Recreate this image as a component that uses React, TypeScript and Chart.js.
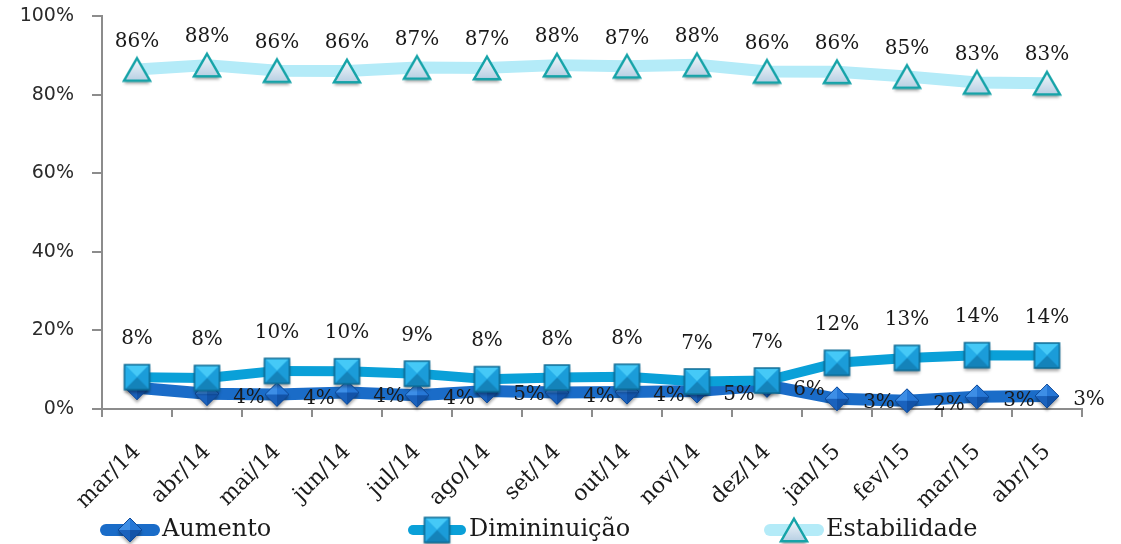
import React, { useEffect, useRef } from 'react';
import { Chart, registerables } from 'chart.js';

Chart.register(...registerables);

// ---------- data ----------
const categories = ['mar/14', 'abr/14', 'mai/14', 'jun/14', 'jul/14', 'ago/14', 'set/14', 'out/14', 'nov/14', 'dez/14', 'jan/15', 'fev/15', 'mar/15', 'abr/15'];
const aumento = [5.4, 3.9, 3.7, 4.2, 3.5, 4.6, 4.2, 4.3, 4.6, 6.0, 2.6, 2.1, 3.1, 3.3];
const diminuicao = [8.1, 7.9, 9.7, 9.6, 9.0, 7.6, 8.0, 8.2, 7.0, 7.25, 11.75, 13.0, 13.7, 13.6];
const estabilidade = [86.4, 87.5, 86.1, 86.0, 86.9, 86.8, 87.5, 87.2, 87.6, 85.9, 85.8, 84.6, 83.1, 82.9];
const aumentoLabelShown = [false, true, true, true, true, true, true, true, true, true, true, true, true, true];
const seriesNames = ['Aumento', 'Dimininuição', 'Estabilidade'];
const yTickStep = 20;
const yMax = 100;

// ---------- styles ----------
const SERIF = '"DejaVu Serif", serif';
const SANS = '"DejaVu Sans", sans-serif';
const AXIS = '#8c8c8c';
const colAum = '#1a6cc8';
const colDim = '#0aa0d8';
const colEst = '#b4ebf8';

function makeCanvas(size: number) {
  const c = document.createElement('canvas');
  c.width = size;
  c.height = size;
  return c;
}

function diamondImg(r: number) {
  const size = Math.ceil(2 * r + 12);
  const c = makeCanvas(size);
  const ctx = c.getContext('2d')!;
  const cx = size / 2, cy = size / 2;
  const T = [cx, cy - r], R = [cx + r, cy], B = [cx, cy + r], L = [cx - r, cy];
  ctx.save();
  ctx.shadowColor = 'rgba(0,0,0,0.35)';
  ctx.shadowOffsetY = 3;
  ctx.shadowBlur = 3;
  ctx.beginPath();
  ctx.moveTo(T[0], T[1]); ctx.lineTo(R[0], R[1]); ctx.lineTo(B[0], B[1]); ctx.lineTo(L[0], L[1]); ctx.closePath();
  ctx.fillStyle = '#1a62bd';
  ctx.fill();
  ctx.restore();
  const facets: [number[], number[], string][] = [
    [T, L, '#3d8ee6'], [T, R, '#2677d6'], [R, B, '#1253a8'], [B, L, '#1a62bd'],
  ];
  facets.forEach(([a, b, col]) => {
    ctx.beginPath();
    ctx.moveTo(a[0], a[1]); ctx.lineTo(b[0], b[1]); ctx.lineTo(cx, cy); ctx.closePath();
    ctx.fillStyle = col;
    ctx.fill();
  });
  ctx.beginPath();
  ctx.moveTo(T[0], T[1]); ctx.lineTo(R[0], R[1]); ctx.lineTo(B[0], B[1]); ctx.lineTo(L[0], L[1]); ctx.closePath();
  ctx.strokeStyle = '#0f4a99';
  ctx.lineWidth = 1;
  ctx.stroke();
  return c;
}

function squareImg(h: number) {
  const size = Math.ceil(2 * h + 12);
  const c = makeCanvas(size);
  const ctx = c.getContext('2d')!;
  const cx = size / 2, cy = size / 2;
  const TL = [cx - h, cy - h], TR = [cx + h, cy - h], BR = [cx + h, cy + h], BL = [cx - h, cy + h];
  ctx.save();
  ctx.shadowColor = 'rgba(0,0,0,0.35)';
  ctx.shadowOffsetY = 3;
  ctx.shadowBlur = 3;
  ctx.fillStyle = '#1a9ad8';
  ctx.fillRect(cx - h, cy - h, 2 * h, 2 * h);
  ctx.restore();
  const facets: [number[], number[], string][] = [
    [TL, TR, '#45c9f7'], [TR, BR, '#1b9cd9'], [BR, BL, '#1483ba'], [BL, TL, '#25aee9'],
  ];
  facets.forEach(([a, b, col]) => {
    ctx.beginPath();
    ctx.moveTo(a[0], a[1]); ctx.lineTo(b[0], b[1]); ctx.lineTo(cx, cy); ctx.closePath();
    ctx.fillStyle = col;
    ctx.fill();
  });
  ctx.strokeStyle = '#0b6a94';
  ctx.lineWidth = 1.5;
  ctx.strokeRect(cx - h, cy - h, 2 * h, 2 * h);
  return c;
}

function triangleImg(r: number) {
  const size = Math.ceil(2 * r + 12);
  const c = makeCanvas(size);
  const ctx = c.getContext('2d')!;
  const cx = size / 2, cy = size / 2 + r * 0.25;
  const hw = r * 0.866;
  const path = () => {
    ctx.beginPath();
    ctx.moveTo(cx, cy - r);
    ctx.lineTo(cx + hw, cy + r * 0.5);
    ctx.lineTo(cx - hw, cy + r * 0.5);
    ctx.closePath();
  };
  ctx.save();
  ctx.shadowColor = 'rgba(0,0,0,0.35)';
  ctx.shadowOffsetY = 3;
  ctx.shadowBlur = 3;
  path();
  const g = ctx.createLinearGradient(0, cy - r, 0, cy + r * 0.5);
  g.addColorStop(0, '#f4f9fc');
  g.addColorStop(1, '#b7cfe3');
  ctx.fillStyle = g;
  ctx.fill();
  ctx.restore();
  path();
  ctx.strokeStyle = '#16a3a8';
  ctx.lineWidth = 2.5;
  ctx.lineJoin = 'miter';
  ctx.stroke();
  return c;
}

export default function App() {
  const ref = useRef<HTMLCanvasElement | null>(null);

  useEffect(() => {
    if (!ref.current) return;
    const imgAum = diamondImg(12);
    const imgDim = squareImg(12.5);
    const imgEst = triangleImg(15);
    const images = [imgAum, imgDim, imgEst];
    const lineCols = [colAum, colDim, colEst];
    const lineWidths = [12, 10, 12];

    const labelsPlugin = {
      id: 'dataLabels',
      afterDatasetsDraw(chart: any) {
        const ctx = chart.ctx;
        ctx.save();
        ctx.font = `20px ${SERIF}`;
        ctx.fillStyle = '#1a1a1a';
        ctx.textAlign = 'center';
        ctx.textBaseline = 'middle';
        // Aumento: labels on the right of each point
        chart.getDatasetMeta(0).data.forEach((p: any, i: number) => {
          if (!aumentoLabelShown[i]) return;
          ctx.fillText(Math.round(aumento[i]) + '%', p.x + 42, p.y + 4);
        });
        // Diminuição: labels above
        chart.getDatasetMeta(1).data.forEach((p: any, i: number) => {
          ctx.fillText(Math.round(diminuicao[i]) + '%', p.x, p.y - 38);
        });
        // Estabilidade: labels above
        chart.getDatasetMeta(2).data.forEach((p: any, i: number) => {
          ctx.fillText(Math.round(estabilidade[i]) + '%', p.x, p.y - 28);
        });
        ctx.restore();
      },
    };

    const legendPlugin = {
      id: 'customLegend',
      afterDraw(chart: any) {
        const ctx = chart.ctx;
        const y = 530;
        const starts = [100, 407, 764];
        ctx.save();
        seriesNames.forEach((name, i) => {
          const x = starts[i];
          ctx.beginPath();
          ctx.moveTo(x + 6, y);
          ctx.lineTo(x + 54, y);
          ctx.strokeStyle = lineCols[i];
          ctx.lineWidth = lineWidths[i];
          ctx.lineCap = 'round';
          ctx.stroke();
          const img = images[i];
          ctx.drawImage(img, x + 30 - img.width / 2, y - img.height / 2);
          ctx.font = `24px ${SERIF}`;
          ctx.fillStyle = '#1a1a1a';
          ctx.textAlign = 'left';
          ctx.textBaseline = 'middle';
          ctx.fillText(name, x + 62, y);
        });
        ctx.restore();
      },
    };

    const common = {
      tension: 0,
      borderCapStyle: 'round',
      borderJoinStyle: 'round',
      pointBorderWidth: 0,
      clip: false,
      fill: false,
    };

    const noPad = (s: any) => {
      s.paddingTop = 0;
      s.paddingBottom = 0;
    };

    const chart = new Chart(ref.current, {
      type: 'line',
      data: {
        labels: categories,
        datasets: [
          { ...common, label: seriesNames[0], data: aumento, borderColor: colAum, borderWidth: 12, pointStyle: imgAum, pointRadius: 12, order: 3 },
          { ...common, label: seriesNames[1], data: diminuicao, borderColor: colDim, borderWidth: 10, pointStyle: imgDim, pointRadius: 12, order: 2 },
          { ...common, label: seriesNames[2], data: estabilidade, borderColor: colEst, borderWidth: 12, pointStyle: imgEst, pointRadius: 12, order: 1 },
        ] as any,
      },
      options: {
        responsive: false,
        animation: false,
        events: [],
        layout: { padding: { left: 0, right: 39, top: 16, bottom: 0 } },
        plugins: { legend: { display: false }, tooltip: { enabled: false } },
        scales: {
          x: {
            offset: true,
            grid: { offset: true, drawOnChartArea: false, tickLength: 8, color: AXIS, lineWidth: 2 },
            border: { color: AXIS, width: 2 },
            ticks: { maxRotation: 45, minRotation: 45, autoSkip: false, font: { family: SERIF, size: 22 }, color: '#1a1a1a', padding: 22 },
            afterFit: (s: any) => { s.height = 135; noPad(s); },
          },
          y: {
            min: 0,
            max: yMax,
            ticks: { stepSize: yTickStep, callback: (v: any) => v + '%', font: { family: SANS, size: 19 }, color: '#2a2a2a', padding: 18 },
            grid: { drawOnChartArea: false, tickLength: 10, color: AXIS, lineWidth: 2 },
            border: { color: AXIS, width: 2 },
            afterFit: (s: any) => { s.width = 102; noPad(s); },
          },
        },
      } as any,
      plugins: [labelsPlugin, legendPlugin],
    });
    return () => chart.destroy();
  }, []);

  return (
    <div style={{ position: 'absolute', left: 0, top: 0, width: 1121, height: 544, background: '#fff' }}>
      <canvas ref={ref} width={1121} height={544} style={{ width: 1121, height: 544, display: 'block' }} />
    </div>
  );
}
